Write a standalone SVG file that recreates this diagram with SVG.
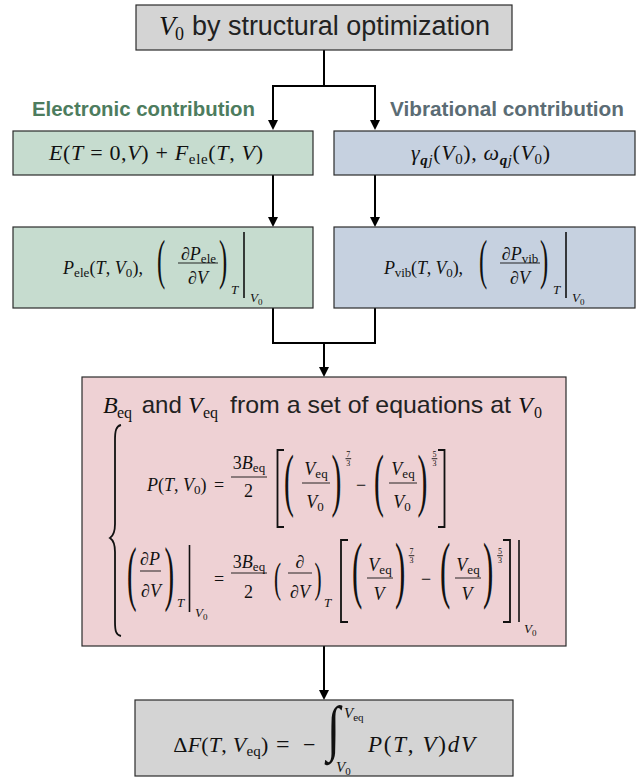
<svg xmlns="http://www.w3.org/2000/svg" width="644" height="780" viewBox="0 0 644 780">
<defs>
<style>
.box{stroke:#2b2b2b;stroke-width:1.2}
.gray{fill:#d4d4d4}
.green{fill:#c6dccf}
.blue{fill:#c6d1e0}
.pink{fill:#eed1d4}
.m{font-family:"Liberation Serif","Times New Roman",serif;fill:#111}
.i{font-style:italic}
.s{font-family:"Liberation Sans",Arial,Helvetica,sans-serif;fill:#222}
.lab{font-family:"Liberation Sans",Arial,Helvetica,sans-serif;font-weight:bold;font-size:20.5px}
.conn{fill:none;stroke:#000;stroke-width:2}
.rule{stroke:#111;stroke-width:0.9}
.bar{stroke:#111;stroke-width:1.6;fill:none}
.brk{stroke:#111;stroke-width:1.8;fill:none}
</style>
<marker id="ah" markerUnits="userSpaceOnUse" markerWidth="10" markerHeight="10" viewBox="0 0 10 10" refX="0" refY="5" orient="auto">
<path d="M0,0 L10,5 L0,10 z" fill="#000"/>
</marker>
</defs>
<rect width="644" height="780" fill="#fff"/>

<g id="connectors">
<path class="conn" d="M324 50 V86"/>
<path class="conn" d="M324 86 H273 V120" marker-end="url(#ah)"/>
<path class="conn" d="M324 86 H375 V120" marker-end="url(#ah)"/>
<path class="conn" d="M273 175 V217" marker-end="url(#ah)"/>
<path class="conn" d="M375 175 V217" marker-end="url(#ah)"/>
<path class="conn" d="M273 308 V343 H375 V308"/>
<path class="conn" d="M324 343 V367" marker-end="url(#ah)"/>
<path class="conn" d="M324 646 V690" marker-end="url(#ah)"/>
</g>

<g id="top">
<rect class="box gray" x="136" y="5" width="376" height="45"/>
<text class="m i" x="159" y="35" font-size="27">V</text>
<text class="m" x="175" y="40" font-size="18">0</text>
<text class="s" x="192" y="35" font-size="27" textLength="298" lengthAdjust="spacingAndGlyphs">by structural optimization</text>
</g>

<g id="label-electronic">
<text class="lab" x="32" y="116" fill="#4d7c5e" textLength="223" lengthAdjust="spacingAndGlyphs">Electronic contribution</text>
</g>
<g id="label-vibrational">
<text class="lab" x="390" y="116" fill="#5b6c74" textLength="234" lengthAdjust="spacingAndGlyphs">Vibrational contribution</text>
</g>

<g id="ele-energy">
<rect class="box green" x="13" y="131" width="300" height="44"/>
<text class="m" x="49" y="160" font-size="22" textLength="214"><tspan class="i">E</tspan>(<tspan class="i">T</tspan> = 0,<tspan class="i">V</tspan>) + <tspan class="i">F</tspan><tspan font-size="15" dy="4">ele</tspan><tspan dy="-4">(</tspan><tspan class="i">T</tspan>, <tspan class="i">V</tspan>)</text>
</g>

<g id="vib-gamma">
<rect class="box blue" x="334" y="131" width="301" height="44"/>
<text class="m" x="411" y="160" font-size="22" textLength="139"><tspan class="i">γ</tspan><tspan font-size="15" dy="5"><tspan class="i" font-weight="bold">q</tspan><tspan class="i">j</tspan></tspan><tspan dy="-5">(</tspan><tspan class="i">V</tspan><tspan font-size="15" dy="4">0</tspan><tspan dy="-4">), </tspan><tspan class="i">ω</tspan><tspan font-size="15" dy="5"><tspan class="i" font-weight="bold">q</tspan><tspan class="i">j</tspan></tspan><tspan dy="-5">(</tspan><tspan class="i">V</tspan><tspan font-size="15" dy="4">0</tspan><tspan dy="-4">)</tspan></text>
</g>

<g id="ele-pressure" font-size="18">
<rect class="box green" x="13" y="227" width="300" height="81"/>
<text class="m" x="63" y="274" textLength="80"><tspan class="i">P</tspan><tspan font-size="13" dy="3">ele</tspan><tspan dy="-3">(</tspan><tspan class="i">T</tspan>, <tspan class="i">V</tspan><tspan font-size="13" dy="3">0</tspan><tspan dy="-3">),</tspan></text>
<text class="m" font-size="55" transform="translate(157,278) scale(0.45,1)">(</text>
<text class="m" x="198.5" y="260" text-anchor="middle"><tspan class="i">∂P</tspan><tspan font-size="13" dy="3">ele</tspan></text>
<line class="rule" x1="178" y1="263" x2="218" y2="263"/>
<text class="m i" x="198" y="284" text-anchor="middle">∂V</text>
<text class="m" font-size="55" transform="translate(219,278) scale(0.45,1)">)</text>
<text class="m i" x="231" y="294" font-size="13">T</text>
<line class="bar" x1="244" y1="232" x2="244" y2="298"/>
<text class="m i" x="250" y="302" font-size="13">V</text>
<text class="m" x="258" y="305" font-size="9">0</text>
</g>

<g id="vib-pressure" font-size="18">
<rect class="box blue" x="334" y="227" width="301" height="81"/>
<text class="m" x="384" y="274" textLength="79"><tspan class="i">P</tspan><tspan font-size="13" dy="3">vib</tspan><tspan dy="-3">(</tspan><tspan class="i">T</tspan>, <tspan class="i">V</tspan><tspan font-size="13" dy="3">0</tspan><tspan dy="-3">),</tspan></text>
<text class="m" font-size="55" transform="translate(479,278) scale(0.45,1)">(</text>
<text class="m" x="520" y="260" text-anchor="middle"><tspan class="i">∂P</tspan><tspan font-size="13" dy="3">vib</tspan></text>
<line class="rule" x1="500" y1="263" x2="540" y2="263"/>
<text class="m i" x="520" y="284" text-anchor="middle">∂V</text>
<text class="m" font-size="55" transform="translate(540,278) scale(0.45,1)">)</text>
<text class="m i" x="553" y="294" font-size="13">T</text>
<line class="bar" x1="566" y1="232" x2="566" y2="298"/>
<text class="m i" x="572" y="302" font-size="13">V</text>
<text class="m" x="580" y="305" font-size="9">0</text>
</g>

<g id="equations" font-size="18">
<rect class="box pink" x="82" y="377" width="484" height="269"/>
<text class="m i" x="103" y="413" font-size="24">B</text>
<text class="m" x="117" y="418" font-size="16">eq</text>
<text class="s" x="141.7" y="413" font-size="24">and</text>
<text class="m i" x="188" y="413" font-size="24">V</text>
<text class="m" x="203" y="418" font-size="16">eq</text>
<text class="s" x="230" y="413" font-size="24" textLength="281" lengthAdjust="spacingAndGlyphs">from a set of equations at</text>
<text class="m i" x="518" y="413" font-size="24">V</text>
<text class="m" x="534" y="418" font-size="16">0</text>

<path class="brk" stroke-width="2" d="M121 425 C116 426 115 431 115 440 L115 524 C115 532 113 536 110 538 C113 540 115 544 115 552 L115 622 C115 631 116 635 121 636"/>

<!-- equation 1 -->
<text class="m" x="147" y="491"><tspan class="i">P</tspan>(<tspan class="i">T</tspan>, <tspan class="i">V</tspan><tspan font-size="13" dy="3">0</tspan><tspan dy="-3">)</tspan></text>
<text class="m" x="214" y="491">=</text>
<text class="m" x="249" y="469" text-anchor="middle">3<tspan class="i">B</tspan><tspan font-size="13" dy="3">eq</tspan></text>
<line class="rule" x1="231" y1="477" x2="267" y2="477"/>
<text class="m" x="248.5" y="497" text-anchor="middle">2</text>
<path class="brk" d="M284 450 H277.5 V527 H284"/>
<text class="m" font-size="69" transform="translate(284,502.5) scale(0.43,1)">(</text>
<text class="m" x="316" y="475" text-anchor="middle"><tspan class="i">V</tspan><tspan font-size="13" dy="3">eq</tspan></text>
<line class="rule" x1="302" y1="483" x2="330" y2="483"/>
<text class="m" x="315" y="508" text-anchor="middle"><tspan class="i">V</tspan><tspan font-size="13" dy="3">0</tspan></text>
<text class="m" font-size="69" transform="translate(331.5,502.5) scale(0.43,1)">)</text>
<text class="m" x="348.3" y="456.5" font-size="8" text-anchor="middle">7</text>
<line class="rule" stroke-width="0.6" x1="345.5" y1="458.7" x2="351.2" y2="458.7"/>
<text class="m" x="348.3" y="466" font-size="8" text-anchor="middle">3</text>
<text class="m" x="356" y="491">−</text>
<text class="m" font-size="69" transform="translate(374,502.5) scale(0.43,1)">(</text>
<text class="m" x="403" y="475" text-anchor="middle"><tspan class="i">V</tspan><tspan font-size="13" dy="3">eq</tspan></text>
<line class="rule" x1="389" y1="483" x2="417" y2="483"/>
<text class="m" x="402" y="508" text-anchor="middle"><tspan class="i">V</tspan><tspan font-size="13" dy="3">0</tspan></text>
<text class="m" font-size="69" transform="translate(417.5,502.5) scale(0.43,1)">)</text>
<text class="m" x="434.5" y="456.5" font-size="8" text-anchor="middle">5</text>
<line class="rule" stroke-width="0.6" x1="431.7" y1="458.7" x2="437.3" y2="458.7"/>
<text class="m" x="434.5" y="466" font-size="8" text-anchor="middle">3</text>
<path class="brk" d="M438 450 H444.5 V527 H438"/>

<!-- equation 2 -->
<text class="m" font-size="72" transform="translate(127,597) scale(0.4,1)">(</text>
<text class="m i" x="150" y="565" text-anchor="middle">∂P</text>
<line class="rule" x1="140" y1="571" x2="161" y2="571"/>
<text class="m i" x="151" y="597" text-anchor="middle">∂V</text>
<text class="m" font-size="72" transform="translate(164.5,597) scale(0.4,1)">)</text>
<text class="m i" x="177" y="607" font-size="13">T</text>
<line class="bar" x1="189.5" y1="545" x2="189.5" y2="612"/>
<text class="m i" x="195" y="617" font-size="13">V</text>
<text class="m" x="203" y="620" font-size="9">0</text>
<text class="m" x="214" y="585">=</text>
<text class="m" x="249" y="568" text-anchor="middle">3<tspan class="i">B</tspan><tspan font-size="13" dy="3">eq</tspan></text>
<line class="rule" x1="231" y1="573" x2="267" y2="573"/>
<text class="m" x="248.5" y="598" text-anchor="middle">2</text>
<text class="m" font-size="42.5" transform="translate(274,592.3) scale(0.5,1)">(</text>
<text class="m i" x="300" y="568" text-anchor="middle">∂</text>
<line class="rule" x1="288" y1="573" x2="312" y2="573"/>
<text class="m i" x="300" y="598" text-anchor="middle">∂V</text>
<text class="m" font-size="42.5" transform="translate(314.5,592.3) scale(0.5,1)">)</text>
<text class="m i" x="324" y="607" font-size="13">T</text>
<path class="brk" d="M348 540 H341 V622 H348"/>
<text class="m" font-size="73.5" transform="translate(352,593.8) scale(0.42,1)">(</text>
<text class="m" x="380" y="571" text-anchor="middle"><tspan class="i">V</tspan><tspan font-size="13" dy="3">eq</tspan></text>
<line class="rule" x1="367" y1="578" x2="393" y2="578"/>
<text class="m i" x="379" y="600" text-anchor="middle">V</text>
<text class="m" font-size="73.5" transform="translate(395,593.8) scale(0.42,1)">)</text>
<text class="m" x="411.5" y="553.5" font-size="8" text-anchor="middle">7</text>
<line class="rule" stroke-width="0.6" x1="408.7" y1="555.7" x2="414.3" y2="555.7"/>
<text class="m" x="411.5" y="563" font-size="8" text-anchor="middle">3</text>
<text class="m" x="421" y="585">−</text>
<text class="m" font-size="73.5" transform="translate(440,593.8) scale(0.42,1)">(</text>
<text class="m" x="468" y="571" text-anchor="middle"><tspan class="i">V</tspan><tspan font-size="13" dy="3">eq</tspan></text>
<line class="rule" x1="455" y1="578" x2="481" y2="578"/>
<text class="m i" x="467" y="600" text-anchor="middle">V</text>
<text class="m" font-size="73.5" transform="translate(483,593.8) scale(0.42,1)">)</text>
<text class="m" x="500" y="553.5" font-size="8" text-anchor="middle">5</text>
<line class="rule" stroke-width="0.6" x1="497.2" y1="555.7" x2="502.8" y2="555.7"/>
<text class="m" x="500" y="563" font-size="8" text-anchor="middle">3</text>
<path class="brk" d="M503 540 H510 V622 H503"/>
<line class="bar" x1="519" y1="540" x2="519" y2="622"/>
<text class="m i" x="524" y="633" font-size="13">V</text>
<text class="m" x="532" y="636" font-size="9">0</text>
</g>

<g id="free-energy">
<rect class="box gray" x="135" y="700" width="378" height="76"/>
<text class="m" x="173.3" y="752" font-size="22" textLength="95">Δ<tspan class="i">F</tspan>(<tspan class="i">T</tspan>, <tspan class="i">V</tspan><tspan font-size="15" dy="4">eq</tspan><tspan dy="-4">)</tspan></text>
<text class="m" x="276" y="752" font-size="24">=</text>
<text class="m" x="303" y="752" font-size="22">−</text>
<text class="m i" font-size="56" transform="translate(327,748.5) scale(0.85,1.1)">∫</text>
<text class="m" x="344" y="718"><tspan class="i" font-size="15">V</tspan><tspan font-size="11" dy="3">eq</tspan></text>
<text class="m" x="336" y="772"><tspan class="i" font-size="15">V</tspan><tspan font-size="11" dy="3">0</tspan></text>
<text class="m" x="368" y="752" font-size="23" textLength="107"><tspan class="i">P</tspan>(<tspan class="i">T</tspan>, <tspan class="i">V</tspan>)<tspan class="i">dV</tspan></text>
</g>
</svg>
